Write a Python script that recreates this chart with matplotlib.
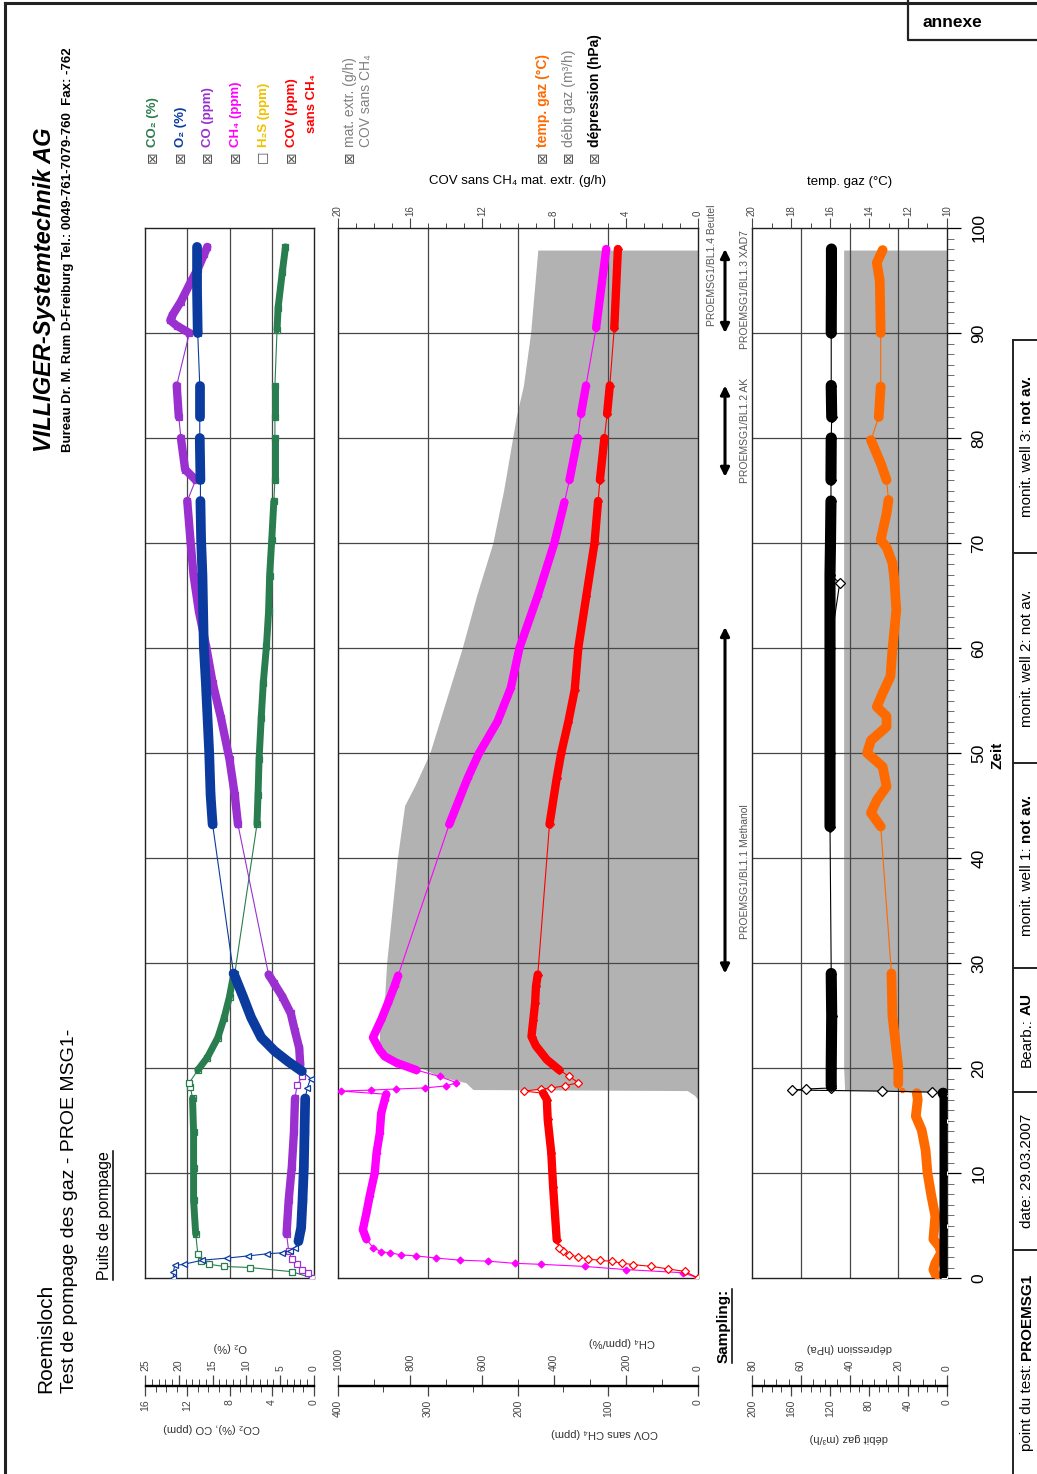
import numpy as np
import matplotlib
matplotlib.use("Agg")
import matplotlib.pyplot as plt
from matplotlib.ticker import MultipleLocator
from matplotlib.transforms import blended_transform_factory

plt.rcParams['font.family'] = ['Liberation Sans', 'DejaVu Sans']

# ---------------- data (time in "Zeit" units) ----------------
co2_t = [0, 0.6, 1.0, 1.1, 1.3, 1.6, 2.3, 4.2, 7.4, 10.5, 13.9, 17.1, 18.2, 18.6, 19.8, 21.0, 22.9, 24.8,
         26.8, 28.4, 29.0, 43.2, 46.0, 49.4, 53.3, 56.7, 60.2, 63.5, 66.9, 70.3, 74.0, 76.0, 80.0, 82.0,
         85.0, 90.3, 92.4, 95.8, 98.2]
co2_v = [0.2, 2.1, 6.1, 8.5, 9.9, 10.7, 11.0, 11.2, 11.4, 11.4, 11.4, 11.5, 11.7, 11.8, 11.0, 10.1, 9.1, 8.5,
         8.0, 7.7, 7.5, 5.4, 5.3, 5.2, 5.0, 4.8, 4.5, 4.3, 4.2, 4.0, 3.8, 3.7, 3.7, 3.7,
         3.7, 3.5, 3.4, 3.0, 2.7]

o2_t = [0, 0.6, 1.2, 1.3, 1.7, 1.9, 2.1, 2.3, 2.4, 2.6, 2.9, 3.5, 4.8, 7.4, 10.6, 13.9, 17.1, 18.1, 19.0,
        19.7, 20.6, 21.6, 22.9, 24.8, 26.8, 28.4, 29.0, 43.2, 46.0, 50.0, 56.7, 60.1, 66.9, 70.3, 74.0,
        76.0, 80.0, 82.0, 85.0, 90.0, 94.0, 98.2]
o2_v = [20.8, 20.8, 20.6, 19.3, 16.5, 12.8, 9.8, 7.0, 4.8, 3.5, 2.8, 2.3, 1.9, 1.7, 1.5, 1.4, 1.3, 1.0, 0.5,
        1.8, 3.8, 5.8, 7.8, 9.3, 10.5, 11.5, 11.9, 15.0, 15.3, 15.5, 16.0, 16.3, 16.5, 16.7, 16.8,
        16.8, 16.9, 16.9, 16.9, 17.2, 17.3, 17.3]

co_t = [0, 0.5, 0.8, 1.3, 1.8, 2.6, 4.2, 7.4, 10.6, 13.9, 17.1, 18.4, 19.2, 20.3, 21.9, 23.5, 25.2, 26.8,
        28.1, 28.9, 43.2, 46.0, 49.4, 53.3, 56.7, 60.1, 63.5, 66.9, 70.3, 74.0, 76.0, 77.0, 80.0, 82.0,
        85.0, 90.0, 90.7, 91.2, 91.7, 93.0, 94.8, 96.1, 97.5, 98.2]
co_v = [0.2, 0.6, 1.1, 1.6, 2.1, 2.4, 2.6, 2.4, 2.1, 1.9, 1.8, 1.6, 1.1, 1.3, 1.4, 1.8, 2.2, 3.0,
        3.8, 4.3, 7.2, 7.5, 8.0, 8.8, 9.6, 10.2, 10.9, 11.4, 11.7, 12.0, 11.2, 12.2, 12.6, 12.8,
        13.0, 11.8, 13.0, 13.6, 13.4, 12.6, 11.7, 11.0, 10.4, 10.1]

ch4_t = [0, 0.5, 0.8, 1.1, 1.3, 1.4, 1.6, 1.7, 1.9, 2.1, 2.2, 2.4, 2.5, 2.9, 3.7, 4.6, 6.2, 7.8, 10.0, 11.9,
         13.8, 15.7, 17.0, 17.5, 17.8, 17.9, 18.0, 18.1, 18.3, 18.6, 19.2, 19.8, 20.5, 21.1, 21.7, 22.9,
         24.6, 26.2, 27.8, 28.8, 43.2, 47.6, 50.0, 53.0, 56.2, 60.0, 65.0, 70.0, 73.9, 76.0, 80.0, 82.3,
         85.0, 90.5, 98.0]
ch4_v = [0, 42, 199, 315, 435, 509, 583, 662, 727, 782, 824, 856, 880, 903, 921, 931, 921, 912, 898, 893,
         884, 880, 870, 866, 991, 907, 838, 759, 699, 671, 718, 782, 838, 870, 884, 903,
         880, 861, 843, 833, 691, 640, 608, 557, 520, 496, 445, 399, 371, 357, 334, 325,
         311, 283, 255]

cov_t = [0, 0.63, 0.86, 1.11, 1.27, 1.43, 1.59, 1.68, 1.81, 2.0, 2.22, 2.54, 2.86, 3.65, 8.7, 11.9, 15.1,
         17.0, 17.6, 17.8, 18.0, 18.1, 18.3, 18.6, 19.2, 19.8, 20.8, 22.1, 23.0, 24.6, 26.2, 27.8, 28.9,
         43.2, 47.6, 50.0, 53.0, 56.0, 60.0, 65.0, 70.0, 74.0, 76.0, 80.0, 82.3, 85.0, 90.5, 98.0]
cov_v = [0, 15, 33, 52, 72, 85, 96, 109, 122, 133, 143, 150, 154, 157, 161, 163, 167,
         168, 172, 193, 174, 163, 148, 133, 143, 154, 168, 180, 185, 183, 181, 180, 178,
         165, 157, 152, 144, 137, 133, 124, 115, 111, 109, 104, 101, 98, 93, 89]

mat_t = [17.0, 17.4, 17.85, 17.95, 18.6, 19.2, 19.8, 20.8, 21.4, 22.5, 24.0, 27.0, 30.0, 35.0, 40.0, 45.0,
         47.0, 50.0, 55.0, 60.0, 65.0, 70.0, 75.0, 80.0, 82.0, 85.0, 90.0, 97.9]
mat_v = [0.0, 0.2, 0.6, 12.5, 12.9, 14.4, 15.1, 16.8, 17.5, 17.7, 17.7, 17.4, 17.3, 17.0, 16.7, 16.3,
         15.7, 14.9, 14.0, 13.1, 12.3, 11.4, 10.8, 10.3, 10.1, 9.7, 9.3, 8.9]

debit_t = [17.7, 17.9, 20.0, 29.0, 43.0, 60.0, 80.0, 97.9]
debit_v = [0, 105, 106, 106, 106, 106, 106, 106]

dep_t = [0, 5, 10, 15, 17.5, 17.6, 17.7, 17.8, 17.9, 18.0, 18.1, 18.3, 20, 25, 29, 43, 50, 60, 66.2, 67,
         70, 74, 76, 80, 82, 85, 90, 95, 98]
dep_v = [0.8, 0.8, 0.8, 0.8, 0.8, 1.6, 6.2, 26.8, 63.5, 57.7, 47.4, 47.5, 47.5, 47.3, 47.5, 48.0, 48.0,
         48.0, 44.0, 48.0, 47.8, 47.6, 47.6, 47.5, 47.3, 47.5, 47.5, 47.4, 47.4]
dep_outlier_t = [66.2]   # single off-band reading

temp_t = [0, 0.8, 1.4, 2.4, 3.0, 3.7, 5.9, 7.8, 10.0, 12.2, 14.1, 15.4, 17.0, 17.6, 17.9, 18.5, 20.1, 21.7,
          25.0, 29.0, 43.0, 44.3, 45.5, 46.8, 48.7, 50.0, 51.2, 52.5, 53.5, 54.4, 55.7, 57.3, 59.8, 63.6,
          66.5, 68.1, 69.6, 70.3, 72.8, 74.1, 76.0, 77.6, 79.8, 82.0, 84.9, 90.0, 95.0, 96.7, 97.9]
temp_v = [10.5, 10.7, 10.6, 10.3, 10.4, 10.7, 10.6, 10.8, 11.0, 11.1, 11.3, 11.6, 11.5, 11.55, 12.3, 12.5,
          12.5, 12.6, 12.8, 12.85, 13.4, 13.9, 13.6, 13.1, 13.3, 14.1, 13.9, 13.1, 13.1, 13.6, 13.3, 12.9,
          12.8, 12.6, 12.7, 12.8, 13.1, 13.4, 13.1, 13.0, 13.1, 13.4, 13.9, 13.5, 13.4, 13.4, 13.45, 13.6, 13.3]

# stretches with densely logged readings
spans_gas = [(3.5, 17.6), (19.5, 29.0), (43.0, 74.1), (76.0, 80.0), (82.0, 85.0), (90.0, 98.2)]
spans_pump = [(0.0, 17.6), (18.3, 29.0), (43.0, 74.1), (76.0, 80.0), (82.0, 85.0), (90.0, 98.2)]

sample_names = ['PROEMSG1/BL1.1 Methanol', 'PROEMSG1/BL1.2 AK', 'PROEMSG1/BL1.3 XAD7']
sample_start = [29.0, 76.3, 90.0]
sample_end = [62.0, 85.0, 98.0]
sample_label_t = [38.7, 80.7, 94.1]

info_normal = ['monit. well 3:', 'monit. well 2: not av.', 'monit. well 1:', 'Bearb.:', 'date: 29.03.2007',
               'point du test:']
info_bold = ['not av.', '', 'not av.', 'AU', '', 'PROEMSG1']

# ---------------- colours ----------------
C_CO2 = '#2a7d4f'
C_O2 = '#0b3b9e'
C_CO = '#9a30d0'
C_CH4 = '#ff00ff'
C_H2S = '#f0c000'
C_COV = '#ff0000'
C_TEMP = '#ff6a00'
C_FILL = '#b2b2b2'
C_GRID = '#474747'

W, H = 1037, 1474
fig = plt.figure(figsize=(W / 100, H / 100), dpi=100)
page = fig.add_axes([0, 0, 1, 1])
page.set_xlim(0, W)
page.set_ylim(H, 0)
page.axis('off')


def px_axes(x0, y0, x1, y1):
    return fig.add_axes([x0 / W, 1 - y1 / H, (x1 - x0) / W, (y1 - y0) / H])


def style_panel(ax, lim):
    ax.set_xlim(lim)
    ax.set_ylim(0, 100)
    ax.set_xticks([])
    ax.set_yticks([])
    lo, hi = min(lim), max(lim)
    ax.vlines(np.linspace(lo, hi, 5)[1:-1], 0, 100, colors=C_GRID, lw=0.9, zorder=2)
    ax.hlines(np.arange(10, 100, 10), lo, hi, colors=C_GRID, lw=0.9, zorder=2)
    for s in ax.spines.values():
        s.set_linewidth(1.0)
        s.set_color('#222222')


def twin(ax, lim):
    tw = ax.twiny()
    tw.set_xlim(lim)
    tw.set_ylim(0, 100)
    tw.set_xticks([])
    for s in tw.spines.values():
        s.set_visible(False)
    return tw


def series(ax, t, v, color, marker, spans, band, ms=4.5, filled=False, skip=()):
    t = np.asarray(t, float)
    v = np.asarray(v, float)
    ax.plot(v, t, color=color, lw=0.8, marker=marker, ms=ms, mfc=color if filled else 'white',
            mec=color, mew=0.9, zorder=4)
    keep = ~np.isin(t, skip)
    for a, b in spans:
        m = (t >= a - 1e-6) & (t <= b + 1e-6) & keep
        if m.sum() >= 2:
            ax.plot(v[m], t[m], color=color, lw=band, solid_capstyle='round', zorder=5)


def top_ticks(ax, ticks, minor):
    ax.xaxis.tick_top()
    ax.set_xticks(ticks)
    ax.xaxis.set_minor_locator(MultipleLocator(minor))
    ax.tick_params(axis='x', which='major', direction='out', length=7, width=0.8, labelsize=7,
                   labelrotation=90, pad=2, colors='#444444')
    ax.tick_params(axis='x', which='minor', direction='out', length=3.5, width=0.7, colors='#444444')


TOP, BOT = 228, 1278

# ---------------- left panel: gas composition ----------------
ax1 = px_axes(145, TOP, 314, BOT)
style_panel(ax1, (16, 0))
ax1o = twin(ax1, (25, 0))
ax1.xaxis.set_visible(False)
series(ax1, co2_t, co2_v, C_CO2, 's', spans_gas, 5)
series(ax1, co_t, co_v, C_CO, 's', spans_gas, 6)
series(ax1o, o2_t, o2_v, C_O2, '<', spans_gas, 7, ms=5)

# ---------------- middle panel: CH4 / COV / extracted mass ----------------
ax2 = px_axes(338, TOP, 698, BOT)
style_panel(ax2, (20, 0))
ax2.fill_betweenx(mat_t, 0, mat_v, color=C_FILL, lw=0, zorder=1)
ax2m = twin(ax2, (1000, 0))
ax2c = twin(ax2, (400, 0))
series(ax2m, ch4_t, ch4_v, C_CH4, 'D', spans_gas, 6, ms=3.5, filled=True)
series(ax2c, cov_t, cov_v, C_COV, 'D', spans_gas, 6, ms=4)
top_ticks(ax2, np.arange(0, 21, 4), 1)

# ---------------- right panel: flow / temperature / depression ----------------
ax3 = px_axes(752, TOP, 947, BOT)
style_panel(ax3, (200, 0))
ax3.fill_betweenx(debit_t, 0, debit_v, color=C_FILL, lw=0, zorder=1)
ax3t = twin(ax3, (20, 10))
ax3d = twin(ax3, (80, 0))
series(ax3d, dep_t, dep_v, 'black', 'D', spans_pump, 8, ms=5, skip=dep_outlier_t)
series(ax3t, temp_t, temp_v, C_TEMP, 'o', spans_pump, 7, ms=3, filled=True)
top_ticks(ax3t, np.arange(10, 21, 2), 1)
ax3.xaxis.set_visible(False)
ax3.yaxis.tick_right()
ax3.set_yticks(np.arange(0, 101, 10))
ax3.yaxis.set_minor_locator(MultipleLocator(1))
ax3.tick_params(axis='y', which='major', direction='out', length=10, width=0.9, labelsize=12.5,
                labelrotation=90, pad=13)
ax3.tick_params(axis='y', which='minor', direction='out', length=5, width=0.6, colors='#555555')
for lab in ax3.get_yticklabels():
    lab.set_va('center')
    lab.set_ha('center')


# ---------------- bottom double scales ----------------
def scale_pair(x0, x1, top_spec, bot_spec, y=1385):
    for side, (vmax, major, minor) in (('top', top_spec), ('bottom', bot_spec)):
        a = px_axes(x0, y - 0.5, x1, y + 0.5)
        a.set_xlim(vmax, 0)
        a.set_ylim(0, 1)
        a.set_yticks([])
        a.patch.set_visible(False)
        for s in a.spines.values():
            s.set_visible(False)
        a.spines[side].set_visible(True)
        a.spines[side].set_linewidth(1.0)
        if side == 'top':
            a.xaxis.tick_top()
        else:
            a.xaxis.tick_bottom()
        a.set_xticks(np.arange(0, vmax + 1e-9, major))
        a.xaxis.set_minor_locator(MultipleLocator(minor))
        a.tick_params(axis='x', which='major', direction='out', length=7, width=0.9, labelsize=7.5,
                      labelrotation=90, pad=3, colors='#444444')
        a.tick_params(axis='x', which='minor', direction='out', length=4, width=0.7, colors='#444444')


scale_pair(145, 314, (25, 5, 1), (16, 4, 1))
scale_pair(338, 698, (1000, 200, 100), (400, 100, 50))
scale_pair(752, 947, (80, 20, 5), (200, 40, 10))

small = dict(rotation=180, ha='center', va='center', size=8, color='#333333')
page.text(230, 1347, 'O₂ (%)', **small)
page.text(212, 1428, 'CO₂ (%), CO (ppm)', **small)
page.text(622, 1342, 'CH₄ (ppm/%)', **small)
page.text(605, 1433, 'COV sans CH₄ (ppm)', **small)
page.text(849, 1348, 'dépression (hPa)', **small)
page.text(849, 1438, 'débit gaz (m³/h)', **small)

# ---------------- axis titles ----------------
page.text(518, 181, 'COV sans CH₄ mat. extr. (g/h)', ha='center', va='center', size=9.5)
page.text(850, 182, 'temp. gaz (°C)', ha='center', va='center', size=9.5)
page.text(997, 755, 'Zeit', rotation=90, ha='center', va='center', size=11, weight='bold')

# ---------------- legend ----------------
leg_labels = ['CO₂ (%)', 'O₂ (%)', 'CO (ppm)', 'CH₄ (ppm)', 'H₂S (ppm)', 'COV (ppm)', 'sans CH₄']
leg_colors = [C_CO2, C_O2, C_CO, C_CH4, C_H2S, C_COV, C_COV]
leg_x = [153, 181, 208, 236, 264, 292, 312]
leg_box = ['⊠', '⊠', '⊠', '⊠', '☐', '⊠', '']
leg_start = [147, 147, 147, 147, 147, 147, 133]
for lab, col, x, box, y0 in zip(leg_labels, leg_colors, leg_x, leg_box, leg_start):
    if box:
        page.text(x, 157, box, rotation=90, ha='center', va='center', size=10, color='#555555')
    page.text(x, y0, lab, rotation=90, rotation_mode='anchor', ha='left', va='center', size=9.5,
              weight='bold', color=col)

page.text(350, 157, '⊠', rotation=90, ha='center', va='center', size=10, color='#555555')
page.text(350, 147, 'mat. extr. (g/h)', rotation=90, rotation_mode='anchor', ha='left', va='center',
          size=10, color='#808080')
page.text(366, 147, 'COV sans CH₄', rotation=90, rotation_mode='anchor', ha='left', va='center',
          size=10, color='#808080')

for x, lab, col, wt in ((543, 'temp. gaz (°C)', C_TEMP, 'bold'), (569, 'débit gaz (m³/h)', '#808080', 'normal'),
                        (595, 'dépression (hPa)', 'black', 'bold')):
    page.text(x, 157, '⊠', rotation=90, ha='center', va='center', size=10, color='#555555')
    page.text(x, 147, lab, rotation=90, rotation_mode='anchor', ha='left', va='center', size=10,
              weight=wt, color=col)

# ---------------- sampling periods ----------------
trans = blended_transform_factory(page.transData, ax3.transData)
for name, s, e, tl in zip(sample_names, sample_start, sample_end, sample_label_t):
    page.annotate('', xy=(725, e), xytext=(725, s), xycoords=trans, textcoords=trans,
                  arrowprops=dict(arrowstyle='<|-|>', color='black', lw=2.2, mutation_scale=13,
                                  shrinkA=0, shrinkB=0))
    page.text(745, tl, name, transform=trans, rotation=90, ha='center', va='center', size=7.5,
              color='#555555')
page.text(712, 96.5, 'PROEMSG1/BL1.4 Beutel', transform=trans, rotation=90, ha='center', va='center',
          size=7.5, color='#555555')

# ---------------- page frame and header texts ----------------
page.plot([5, 5], [3, H], color='#222222', lw=2.2)
page.plot([5, W], [3, 3], color='#222222', lw=2.2)
page.plot([908, 908, W], [0, 40, 40], color='#222222', lw=1.6)
page.text(952, 22, 'annexe', ha='center', va='center', size=12.5, weight='bold')

page.text(46, 1393, 'Roemisloch', rotation=90, rotation_mode='anchor', ha='left', va='center', size=15)
page.text(69, 1393, 'Test de pompage des gaz - PROE MSG1-', rotation=90, rotation_mode='anchor', ha='left',
          va='center', size=14)
page.text(45, 452, 'VILLIGER-Systemtechnik AG', rotation=90, rotation_mode='anchor', ha='left', va='center',
          size=17, weight='bold', style='italic')
page.text(68, 452, 'Bureau Dr. M. Rum D-Freiburg Tel.: 0049-761-7079-760  Fax: -762', rotation=90,
          rotation_mode='anchor', ha='left', va='center', size=9.5, weight='bold',
          family=['Liberation Sans Narrow', 'Liberation Sans', 'DejaVu Sans'])

renderer = fig.canvas.get_renderer()


def underlined(x, y0, text, size, weight):
    t = page.text(x, y0, text, rotation=90, rotation_mode='anchor', ha='left', va='center', size=size,
                  weight=weight)
    L = t.get_window_extent(renderer).height
    page.plot([x + 7.5, x + 7.5], [y0, y0 - L], color='black', lw=1.1)


underlined(105, 1280, 'Puits de pompage', 11.5, 'normal')
underlined(724, 1363, 'Sampling:', 11, 'bold')

# info boxes bottom right
page.plot([1013, 1013], [340, H], color='#222222', lw=1.4)
box_edges = [340, 553, 763, 968, 1092, 1250]
for yb in box_edges:
    page.plot([1013, W], [yb, yb], color='#222222', lw=1.4)
centers = [(a + b) / 2 for a, b in zip(box_edges, box_edges[1:] + [H])]
for norm, bold, yc in zip(info_normal, info_bold, centers):
    kw = dict(rotation=90, rotation_mode='anchor', ha='left', va='center', size=11)
    t1 = page.text(1027, yc, norm, **kw)
    h1 = t1.get_window_extent(renderer).height
    h2, t2 = 0, None
    if bold:
        t2 = page.text(1027, yc, bold, weight='bold', **kw)
        h2 = t2.get_window_extent(renderer).height + 4
    y0 = yc + (h1 + h2) / 2
    t1.set_y(y0)
    if t2 is not None:
        t2.set_y(y0 - h1 - 4)

fig.savefig('out.png', dpi=100)
